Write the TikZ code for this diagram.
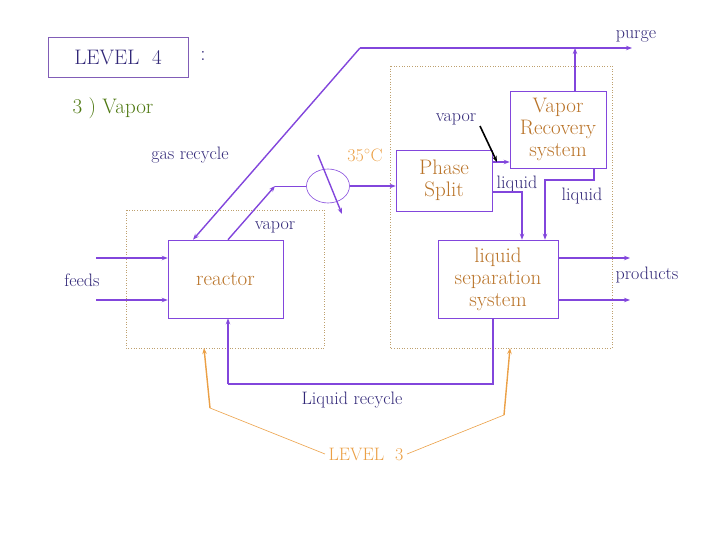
\documentclass[tikz,border=0pt]{standalone}
\usetikzlibrary{arrows.meta,shapes.geometric}
\definecolor{flow}{RGB}{130,70,220}
\definecolor{navy}{RGB}{50,40,120}
\definecolor{brn}{RGB}{185,115,40}
\definecolor{org}{RGB}{235,160,70}
\definecolor{tan}{RGB}{190,160,110}
\begin{document}
\begin{tikzpicture}[x=1pt,y=-1pt,
  box/.style={draw=flow,line width=0.6pt,inner sep=0pt,text=brn,align=center,font=\fontsize{21}{22}\selectfont},
  lbl/.style={text=navy,font=\fontsize{18}{18}\selectfont,inner sep=1pt},
  st/.style={draw=flow,line width=1.4pt,-{Stealth[length=6pt]}},
  lv/.style={draw=org,line width=0.6pt},
  zone/.style={draw=tan,dotted,line width=0.6pt}]
\useasboundingbox (0,0) rectangle (720,540);
% zones
\draw[zone] (126,210) rectangle (324,348);
\draw[zone] (390,66) rectangle (612,348);
% boxes
\node[draw=flow!60!gray,minimum width=140pt,minimum height=40pt,text=navy,font=\fontsize{21}{21}\selectfont] (l4) at (118,57) {LEVEL\ \ 4};
\node[text=navy,font=\fontsize{21}{21}\selectfont] (colon) at (203,56) {:};
\node[text=brn!60!green!70!black,font=\fontsize{21}{21}\selectfont] (v3) at (113,108) {3 ) Vapor};
\node[box,minimum width=115pt,minimum height=78pt] (reac) at (225.5,279) {reactor};
\node[box,minimum width=96pt,minimum height=61pt] (ps) at (444,180.5) {Phase\\Split};
\node[box,minimum width=96pt,minimum height=77pt] (vr) at (558,129.5) {Vapor\\Recovery\\system};
\node[box,minimum width=120pt,minimum height=78pt] (ls) at (498,279) {liquid\\separation\\system};
\node[draw=flow,line width=0.6pt,ellipse,minimum width=43pt,minimum height=34pt,inner sep=0pt] (hx) at (328,186) {};
% labels
\node[lbl] (gr) at (190,155) {gas recycle};
\node[lbl] (vap1) at (275,227) {vapor};
\node[lbl] (vap2) at (456,119) {vapor};
\node[lbl] (liq1) at (517,184) {liquid};
\node[lbl] (liq2) at (582,196) {liquid};
\node[lbl] (fd) at (82,280) {feeds};
\node[lbl] (pr) at (647,275) {products};
\node[lbl] (pg) at (636,36) {purge};
\node[lbl] (lr) at (352,400) {Liquid recycle};
\node[text=org,font=\fontsize{18}{18}\selectfont] (tc) at (365,155) {35$^\circ$C};
\node[text=org,font=\fontsize{18}{18}\selectfont] (l3) at (366,454) {LEVEL\ \ 3};
% coordinates
\coordinate (top) at (360,48);
\coordinate (pgend) at (632,48);
\coordinate (vk) at (275,186);
\coordinate (f1) at (96,258);
\coordinate (f2) at (96,300);
\coordinate (p1) at (630,258);
\coordinate (p2) at (630,300);
\coordinate (hxa) at (318,155);
\coordinate (hxb) at (342,214);
% streams
\draw[st] (top) -- (pgend);
\draw[st] (vr.north -| 575,0) -- (575,48);
\draw[st] (top) -- (reac.north -| 193,0);
\draw[st] (reac.north -| 228,0) -- (vk);
\draw[draw=flow,line width=0.6pt] (vk) -- (hx.west);
\draw[st] (hx.east) -- (ps.west |- hx.east);
\draw[st] (hxa) -- (hxb);
\draw[st] (ps.east |- 0,162) -- (vr.west |- 0,162);
\draw[draw=black,line width=1.6pt,-{Stealth[length=6pt]}] (480,126) -- (497,162);
\draw[st] (ps.east |- 0,192) -| (ls.north -| 522,0);
\draw[st] (vr.south -| 594,0) |- (545,180) -- (ls.north -| 545,0);
\draw[st] (f1) -- (reac.west |- f1);
\draw[st] (f2) -- (reac.west |- f2);
\draw[st] (ls.east |- p1) -- (p1);
\draw[st] (ls.east |- p2) -- (p2);
\draw[draw=flow,line width=1.4pt] (ls.south -| 493,0) -- (493,384) -- (228,384);
\draw[st] (228,384) -- (reac.south -| 228,0);
% level 3 pointers
\draw[lv] (l3.west) -- (210,408);
\draw[org,line width=1.4pt,-{Stealth[length=6pt]}] (210,408) -- (204,348);
\draw[lv] (l3.east) -- (504,415);
\draw[org,line width=1.4pt,-{Stealth[length=6pt]}] (504,415) -- (510,348);
\end{tikzpicture}
\end{document}
